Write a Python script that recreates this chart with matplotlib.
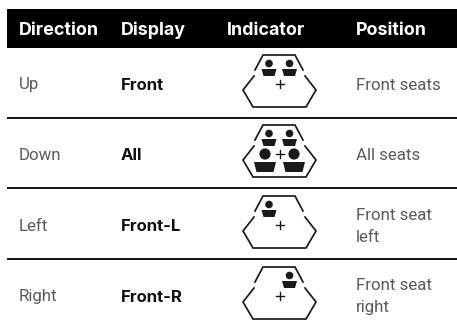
import matplotlib
matplotlib.use('Agg')
import matplotlib.pyplot as plt
from matplotlib.patches import Circle, Polygon, Rectangle

directions = ['Up', 'Down', 'Left', 'Right']
displays = ['Front', 'All', 'Front-L', 'Front-R']
positions = ['Front seats', 'All seats', 'Front seat', 'Front seat']
positions2 = ['', '', 'left', 'right']
headers = ['Direction', 'Display', 'Indicator', 'Position']
# which seats are lit in each row: FL, FR, RL, RR
seats = [[1, 1, 0, 0], [1, 1, 1, 1], [1, 0, 0, 0], [0, 1, 0, 0]]

row_base = [89.5, 160, 231, 301.5]
pos_base = [89.5, 160, 220, 290]
row_lines = [117.5, 188, 259]
icon_top = [55, 125, 196, 267]
col_x = [19, 121, 227, 356]

fig = plt.figure(figsize=(4.57, 3.25), dpi=100)
ax = fig.add_axes([0, 0, 1, 1])
ax.set_xlim(0, 457)
ax.set_ylim(325, 0)
ax.axis('off')

ax.add_patch(Rectangle((7, 9), 450, 39, color='black', lw=0))
for x, h in zip(col_x, headers):
    ax.text(x, 35, h, color='white', fontsize=12.9, fontweight='bold', family='Inter', va='baseline')

for y in row_lines:
    ax.plot([7, 457], [y, y], color='black', lw=1.3, solid_capstyle='butt')


def front_seat(cx, top):
    ax.add_patch(Circle((cx, top + 8.5), 3.8, color='#1a1a1a', lw=0))
    ax.add_patch(Polygon([(cx - 7.5, top + 14), (cx + 7.5, top + 14), (cx + 5.5, top + 21), (cx - 5.5, top + 21)],
                         color='#1a1a1a', lw=0))


def rear_seat(cx, top):
    ax.add_patch(Circle((cx, top + 29), 5.6, color='#1a1a1a', lw=0))
    ax.add_patch(Polygon([(cx - 11, top + 37), (cx + 11, top + 37), (cx + 8.5, top + 47), (cx - 8.5, top + 47)],
                         color='#1a1a1a', lw=0))


def icon(top, lit):
    lw = 1.25
    # outline, broken on both upper sides
    ax.plot([254, 243, 253, 306, 316, 305], [top + 21, top + 35, top + 52, top + 52, top + 35, top + 21],
            color='#1a1a1a', lw=lw, solid_joinstyle='miter')
    ax.plot([255, 263, 295, 303], [top + 15, top, top, top + 15], color='#1a1a1a', lw=lw, solid_joinstyle='miter')
    # plus sign in the middle
    ax.plot([275.5, 283.5], [top + 29, top + 29], color='#1a1a1a', lw=1.0)
    ax.plot([279.5, 279.5], [top + 25, top + 33], color='#1a1a1a', lw=1.0)
    if lit[0]:
        front_seat(269, top)
    if lit[1]:
        front_seat(289.5, top)
    if lit[2]:
        rear_seat(265, top)
    if lit[3]:
        rear_seat(294, top)


for i in range(4):
    ax.text(col_x[0], row_base[i], directions[i], color='#5a5a5a', fontsize=12.2, family='Roboto', va='baseline')
    ax.text(col_x[1], row_base[i], displays[i], color='#111111', fontsize=12, fontweight='bold', family='Inter', va='baseline')
    ax.text(col_x[3], pos_base[i], positions[i], color='#5a5a5a', fontsize=12.2, family='Roboto', va='baseline')
    if positions2[i]:
        ax.text(col_x[3], pos_base[i] + 22, positions2[i], color='#5a5a5a', fontsize=12.2, family='Roboto', va='baseline')
    icon(icon_top[i], seats[i])

plt.savefig('out.png', dpi=100)
